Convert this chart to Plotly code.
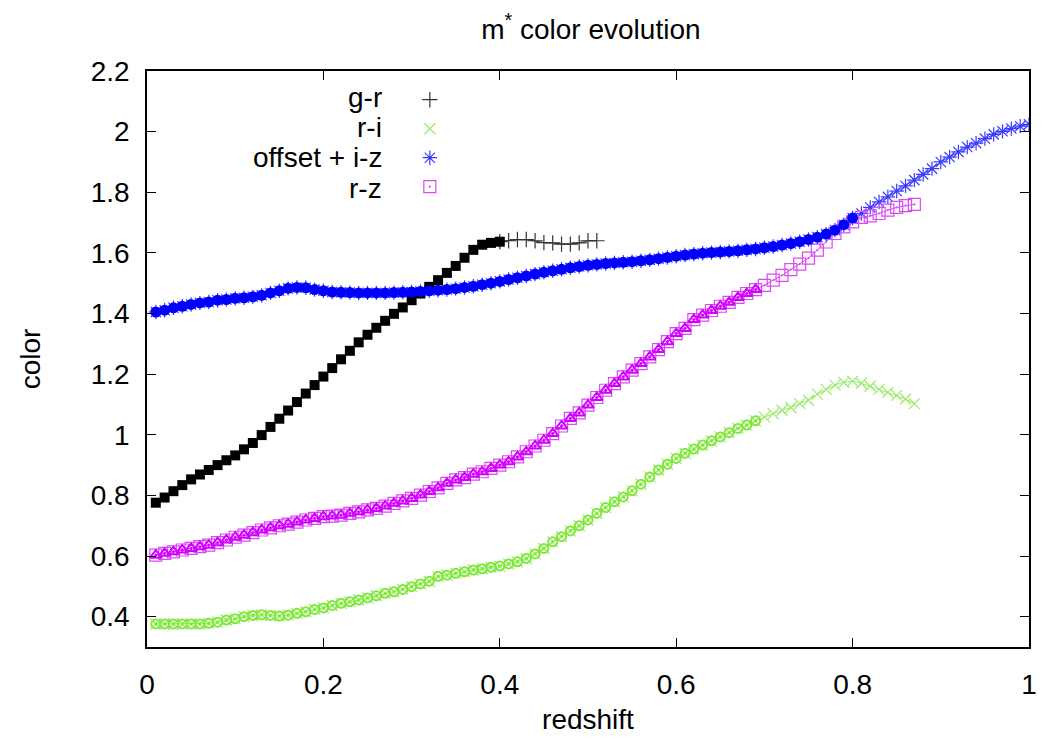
import plotly.graph_objects as go

# redshift grid of the model points
redshift = [0.01, 0.02, 0.03, 0.04, 0.05, 0.06, 0.07, 0.08, 0.09, 0.10,
            0.11, 0.12, 0.13, 0.14, 0.15, 0.16, 0.17, 0.18, 0.19, 0.20,
            0.21, 0.22, 0.23, 0.24, 0.25, 0.26, 0.27, 0.28, 0.29, 0.30,
            0.31, 0.32, 0.33, 0.34, 0.35, 0.36, 0.37, 0.38, 0.39, 0.40,
            0.41, 0.42, 0.43, 0.44, 0.45, 0.46, 0.47, 0.48, 0.49, 0.50,
            0.51, 0.52, 0.53, 0.54, 0.55, 0.56, 0.57, 0.58, 0.59, 0.60,
            0.61, 0.62, 0.63, 0.64, 0.65, 0.66, 0.67, 0.68, 0.69, 0.70,
            0.71, 0.72, 0.73, 0.74, 0.75, 0.76, 0.77, 0.78, 0.79, 0.80,
            0.81, 0.82, 0.83, 0.84, 0.85, 0.86, 0.87, 0.88, 0.89, 0.90,
            0.91, 0.92, 0.93, 0.94, 0.95, 0.96, 0.97, 0.98, 0.99, 1.00]

# g-r colour (z = 0.01 .. 0.51)
g_r = [0.776, 0.793, 0.814, 0.834, 0.853, 0.869, 0.884, 0.900, 0.916, 0.932,
       0.952, 0.973, 0.999, 1.026, 1.053, 1.080, 1.108, 1.136, 1.164, 1.192,
       1.220, 1.249, 1.277, 1.305, 1.330, 1.353, 1.376, 1.399, 1.420, 1.444,
       1.466, 1.488, 1.510, 1.534, 1.557, 1.584, 1.610, 1.627, 1.633, 1.637,
       1.640, 1.644, 1.644, 1.640, 1.634, 1.633, 1.629, 1.629, 1.633, 1.640,
       1.640]

# r-i colour (z = 0.01 .. 0.87)
r_i = [0.376, 0.376, 0.376, 0.376, 0.376, 0.376, 0.378, 0.382, 0.389, 0.393,
       0.400, 0.404, 0.406, 0.404, 0.402, 0.405, 0.411, 0.416, 0.424, 0.429,
       0.437, 0.444, 0.449, 0.455, 0.462, 0.469, 0.477, 0.482, 0.490, 0.499,
       0.508, 0.517, 0.533, 0.537, 0.543, 0.548, 0.554, 0.558, 0.563, 0.567,
       0.574, 0.581, 0.592, 0.607, 0.625, 0.647, 0.664, 0.683, 0.700, 0.719,
       0.741, 0.760, 0.779, 0.795, 0.815, 0.837, 0.861, 0.884, 0.903, 0.922,
       0.939, 0.953, 0.966, 0.980, 0.993, 1.007, 1.021, 1.032, 1.046, 1.059,
       1.070, 1.081, 1.090, 1.103, 1.114, 1.134, 1.150, 1.164, 1.173, 1.177,
       1.170, 1.160, 1.150, 1.140, 1.130, 1.118, 1.103]

# offset + i-z colour (z = 0.01 .. 1.00)
i_z = [1.405, 1.411, 1.419, 1.424, 1.430, 1.435, 1.438, 1.444, 1.446, 1.450,
       1.452, 1.455, 1.460, 1.468, 1.475, 1.483, 1.486, 1.485, 1.479, 1.475,
       1.471, 1.470, 1.469, 1.468, 1.468, 1.468, 1.468, 1.469, 1.470, 1.471,
       1.473, 1.475, 1.477, 1.479, 1.482, 1.486, 1.490, 1.495, 1.500, 1.506,
       1.512, 1.518, 1.524, 1.530, 1.536, 1.541, 1.546, 1.551, 1.555, 1.559,
       1.562, 1.565, 1.567, 1.569, 1.571, 1.574, 1.577, 1.581, 1.585, 1.589,
       1.593, 1.596, 1.599, 1.601, 1.603, 1.605, 1.607, 1.610, 1.613, 1.617,
       1.621, 1.626, 1.631, 1.637, 1.644, 1.652, 1.662, 1.675, 1.693, 1.715,
       1.730, 1.750, 1.768, 1.785, 1.804, 1.821, 1.840, 1.859, 1.878, 1.900,
       1.916, 1.933, 1.949, 1.962, 1.977, 1.991, 2.001, 2.010, 2.018, 2.024]

# r-z colour (z = 0.01 .. 0.87)
r_z = [0.603, 0.609, 0.614, 0.620, 0.625, 0.631, 0.636, 0.644, 0.653, 0.662,
       0.669, 0.677, 0.686, 0.693, 0.700, 0.705, 0.712, 0.719, 0.724, 0.730,
       0.732, 0.735, 0.741, 0.746, 0.752, 0.757, 0.765, 0.774, 0.782, 0.790,
       0.801, 0.813, 0.825, 0.840, 0.851, 0.859, 0.870, 0.878, 0.889, 0.900,
       0.911, 0.927, 0.944, 0.963, 0.982, 1.004, 1.029, 1.054, 1.072, 1.098,
       1.123, 1.147, 1.169, 1.191, 1.213, 1.235, 1.257, 1.281, 1.307, 1.334,
       1.351, 1.380, 1.395, 1.410, 1.424, 1.437, 1.453, 1.466, 1.479, 1.493,
       1.510, 1.526, 1.545, 1.563, 1.583, 1.609, 1.636, 1.664, 1.686, 1.702,
       1.717, 1.722, 1.730, 1.741, 1.750, 1.756, 1.760]

# number of points covered by the bold overlay symbols
n_bold_gr = 40
n_bold_ri = 69
n_bold_iz = 80
n_bold_rz = 69

legend_labels = ["g-r", "r-i", "offset + i-z", "r-z"]
x_ticks = [0, 0.2, 0.4, 0.6, 0.8, 1]
x_tick_text = ["0", "0.2", "0.4", "0.6", "0.8", "1"]
y_ticks = [0.4, 0.6, 0.8, 1.0, 1.2, 1.4, 1.6, 1.8, 2.0, 2.2]
y_tick_text = ["0.4", "0.6", "0.8", "1", "1.2", "1.4", "1.6", "1.8", "2", "2.2"]

FONT = "Liberation Sans, Arial, Helvetica, sans-serif"
FS = 28
BLACK = "#000000"
GREEN = "#7FE83A"
GREEN_THIN = "#9BEA6A"
BLUE = "#0000FF"
BLUE_THIN = "#3A3AFF"
MAGENTA = "#D200FF"
MAGENTA_THIN = "#D94AF0"

fig = go.Figure()

# thin symbols (full range); start index 39 for g-r so the crosses continue the squares
thin = [
    (redshift[n_bold_gr - 1:len(g_r)], g_r[n_bold_gr - 1:], "#333333", "cross-thin-open", 11),
    (redshift[:len(r_i)], r_i, GREEN_THIN, "x-thin-open", 11),
    (redshift[:len(i_z)], i_z, BLUE_THIN, "asterisk-open", 12),
    (redshift[:len(r_z)], r_z, MAGENTA_THIN, "square-open-dot", 12),
]
# thin connecting lines (not in legend)
for xs, ys, col, sym, sz in thin:
    fig.add_trace(go.Scatter(
        x=xs, y=ys, mode="lines", line=dict(color=col, width=1),
        showlegend=False, hoverinfo="skip"))
# thin symbols -> legend samples
for xs, ys, col, sym, sz in thin:
    fig.add_trace(go.Scatter(
        x=xs, y=ys, mode="markers",
        marker=dict(symbol=sym, size=sz, color=col, line=dict(color=col, width=1.2)),
        name=" ", showlegend=True, hoverinfo="skip"))

# bold overlay symbols
fig.add_trace(go.Scatter(
    x=redshift[:n_bold_gr], y=g_r[:n_bold_gr], mode="markers",
    marker=dict(symbol="square", size=10, color=BLACK, line=dict(width=0)),
    showlegend=False, hoverinfo="skip"))
fig.add_trace(go.Scatter(
    x=redshift[:n_bold_ri], y=r_i[:n_bold_ri], mode="markers",
    marker=dict(symbol="circle-open-dot", size=9, color=GREEN, line=dict(color=GREEN, width=2)),
    showlegend=False, hoverinfo="skip"))
fig.add_trace(go.Scatter(
    x=redshift[:n_bold_iz], y=i_z[:n_bold_iz], mode="markers",
    marker=dict(symbol="circle", size=11, color=BLUE, line=dict(width=0)),
    showlegend=False, hoverinfo="skip"))
fig.add_trace(go.Scatter(
    x=redshift[:n_bold_rz], y=r_z[:n_bold_rz], mode="markers",
    marker=dict(symbol="triangle-up-open-dot", size=10, color=MAGENTA, line=dict(color=MAGENTA, width=2)),
    showlegend=False, hoverinfo="skip"))

# legend labels (gnuplot style: right-aligned text left of the sample)
label_y = [0.9544, 0.9023, 0.8502, 0.7966]
annotations = []
for lab, yy in zip(legend_labels, label_y):
    annotations.append(dict(text=lab, x=0.2685, y=yy, xref="paper", yref="paper",
                            xanchor="right", yanchor="middle", showarrow=False,
                            font=dict(family=FONT, size=FS, color="black")))

axis_common = dict(showline=True, linecolor="black", linewidth=1.5, mirror="ticks",
                   ticks="inside", ticklen=9, tickwidth=1.2, tickcolor="black",
                   showgrid=False, zeroline=False,
                   tickfont=dict(family=FONT, size=FS, color="black"))

fig.update_layout(
    width=1044, height=739,
    margin=dict(l=147, r=7, t=71, b=92),
    paper_bgcolor="white", plot_bgcolor="white",
    title=dict(text="m<sup>*</sup> color evolution", x=0.566, xanchor="center",
               y=1 - 29 / 739, yanchor="middle",
               font=dict(family=FONT, size=FS, color="black")),
    xaxis=dict(range=[0, 1], tickvals=x_ticks, ticktext=x_tick_text,
               ticklabelstandoff=12,
               title=dict(text="redshift", standoff=10, font=dict(family=FONT, size=FS, color="black")),
               **axis_common),
    yaxis=dict(range=[0.3, 2.2], tickvals=y_ticks, ticktext=y_tick_text,
               ticklabelstandoff=10,
               title=dict(text="color", standoff=42, font=dict(family=FONT, size=FS, color="black")),
               **axis_common),
    legend=dict(x=0.298, xanchor="left", y=0.984, yanchor="top",
                bgcolor="rgba(0,0,0,0)", font=dict(family=FONT, size=20),
                itemsizing="trace"),
    annotations=annotations,
    showlegend=True,
)

fig.write_html("out.html")
